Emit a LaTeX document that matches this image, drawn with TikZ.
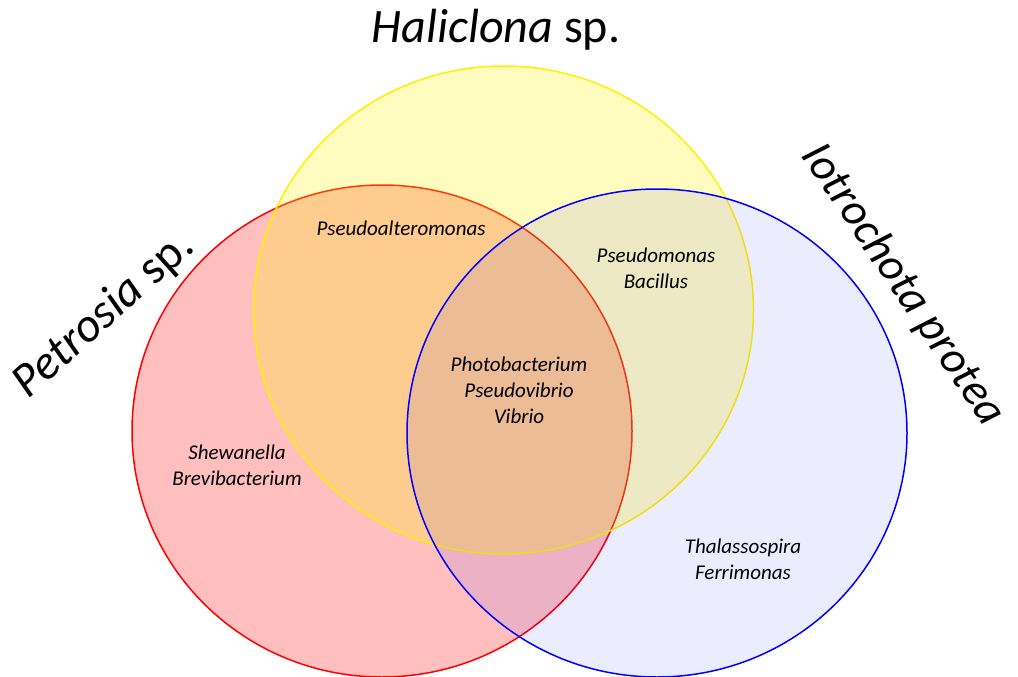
\documentclass[tikz,border=0pt]{standalone}
\usepackage{fontspec}
\setmainfont{Carlito}
\begin{document}
\begin{tikzpicture}[x=1pt,y=-1pt,
  setring/.style={line width=1.5pt},
  taxon/.style={font=\fontsize{21}{26}\selectfont\itshape, align=center, inner sep=0pt},
  title/.style={font=\fontsize{48}{54}\selectfont, inner sep=0pt}]
\useasboundingbox (0,0) rectangle (1018,677);
% circles
\draw[setring, draw=red, fill=red, fill opacity=0.25] (382,431) ellipse [x radius=250, y radius=246];
\draw[setring, draw=yellow, fill=yellow, fill opacity=0.25] (503.5,310) ellipse [x radius=250, y radius=244];
\draw[setring, draw=blue, fill=blue, fill opacity=0.075] (657,433) ellipse [x radius=250, y radius=244];
% titles
\node[title] (hal) at (496,30) {\textit{Haliclona} sp.};
\node[title, rotate=42] (pet) at (104,315) {\textit{Petrosia} sp.};
\node[title, font=\fontsize{46}{52}\selectfont, rotate=-56] (iot) at (903,285) {\textit{Iotrochota protea}};
% taxa
\node[taxon] (ry) at (401,228) {Pseudoalteromonas};
\node[taxon] (yb) at (656,268) {Pseudomonas\\Bacillus};
\node[taxon] (all) at (519,390) {Photobacterium\\Pseudovibrio\\Vibrio};
\node[taxon] (r) at (237,465) {Shewanella\\Brevibacterium};
\node[taxon] (b) at (743,559) {Thalassospira\\Ferrimonas};
\end{tikzpicture}
\end{document}
